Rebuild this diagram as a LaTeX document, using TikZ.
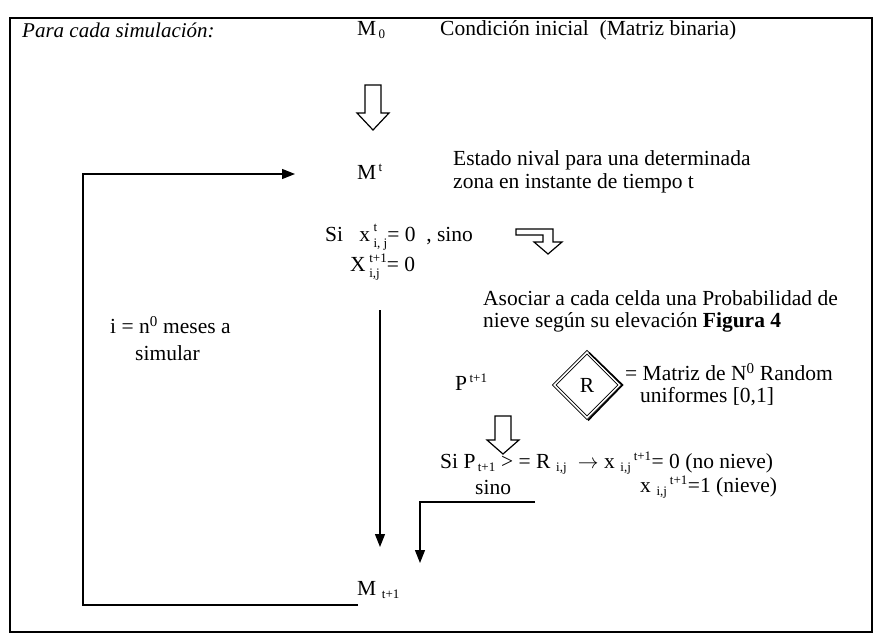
\documentclass[tikz,border=0pt]{standalone}
\usepackage{amsmath}
\usepackage{fontspec}
\setmainfont{Liberation Serif}
\usetikzlibrary{arrows.meta,shapes.geometric,calc}
\tikzset{
  txt/.style={anchor=west,inner sep=0pt,font=\fontsize{21.5}{25}\selectfont},
  arr/.style={line width=1.3pt,-{Triangle[length=13pt,width=10pt]}},
  hollow/.style={line width=1.2pt,line join=miter,fill=white},
}
\newcommand{\sm}[1]{\text{\fontsize{13}{13}\selectfont #1}}
\newsavebox\supbox
\newsavebox\subbox
\newcommand{\supsub}[2]{\sbox\supbox{\fontsize{13}{13}\selectfont #1}\sbox\subbox{\fontsize{13}{13}\selectfont #2}%
  \rlap{\raisebox{9.5pt}{\usebox\supbox}}\rlap{\raisebox{-6pt}{\usebox\subbox}}%
  \hspace{\ifdim\wd\supbox>\wd\subbox \wd\supbox\else\wd\subbox\fi}}
\newcommand{\hdown}[3]{% hollow down arrow: top centre #1, shaft length #2, head length #3
  \draw[hollow] ($#1+(-8,0)$) -- ++(16,0) -- ++(0,#2) -- ++(8,0) -- ($#1+(0,#2+#3)$) -- ($#1+(-16,#2)$) -- ++(8,0) -- cycle;}
\begin{document}
\begin{tikzpicture}[x=1pt,y=-1pt]
\useasboundingbox (0,0) rectangle (883,639);
\fill[white] (0,0) rectangle (883,639);
% outer frame
\draw[line width=1.2pt] (10,18) rectangle (872,632);

\node[txt,font=\fontsize{21}{25}\selectfont\itshape] (para) at (22,30) {Para cada simulación:};
\node[txt] (m0) at (357,30) {M$_{\,\sm{0}}$};
\node[txt] (cond) at (440,30) {Condición inicial\ \ (Matriz binaria)};

\hdown{(373,85)}{28}{17}

\node[txt] (mt) at (357,172) {M$^{\,\sm{t}}$};
\node[txt] (est1) at (453,160) {Estado nival para una determinada};
\node[txt] (est2) at (453,183) {zona en instante de tiempo t};

\node[txt] (si1) at (325,237) {Si\ \ \ x\,\supsub{t}{i, j}= 0\ \ , sino};
\node[txt] (si2) at (350,267) {X\,\supsub{t+1}{i,j}= 0};

% bent hollow arrow
\draw[hollow] (516,229) -- (553,229) -- (553,242) -- (562,242) -- (548,254) -- (534,242) -- (543,242) -- (543,235) -- (516,235) -- cycle;

\node[txt] (aso1) at (483,298) {Asociar a cada celda una Probabilidad de};
\node[txt] (aso2) at (483,322) {nieve según su elevación \textbf{Figura 4}};

\node[txt] (i1) at (110,325) {i = n$^{\text{0}}$ meses a};
\node[txt] (i2) at (135,353) {simular};

\node[txt] (p) at (455,382) {P$^{\,\sm{t+1}}$};
\node[draw,diamond,double,double distance=1.6pt,line width=0.9pt,minimum size=66pt,inner sep=0pt,font=\fontsize{21.5}{25}\selectfont] (r) at (587,385) {R};
\draw[line width=1.6pt] ($(r.north)+(2,1)$) -- ($(r.east)+(2,0)$) -- ($(r.south)+(1,2)$);
\node[txt] (mat1) at (625,372) {= Matriz de N$^{\text{0}}$ Random};
\node[txt] (mat2) at (640,397) {uniformes [0,1]};

\hdown{(503,416)}{24}{14}

\node[txt] (sip) at (440,463) {Si P$_{\,\sm{t+1}}$ > = R$_{\,\sm{ i,j}}$\ \ $\rightarrow$ x$_{\,\sm{ i,j}}$$^{\,\sm{t+1}}$= 0 (no nieve)};
\node[txt] (sino) at (475,487) {sino};
\node[txt] (xn) at (640,487) {x$_{\,\sm{ i,j}}$$^{\,\sm{t+1}}$=1 (nieve)};

\node[txt] (mt1) at (357,590) {M$_{\,\sm{ t+1}}$};

% connectors
\coordinate (loopR) at (358,605);
\coordinate (loopBL) at (83,605);
\coordinate (mtin) at (295,174);
\draw[arr] (loopR) -- (loopBL) |- (mtin);

\coordinate (vtop) at (380,310);
\coordinate (vbot) at (380,547);
\draw[arr] (vtop) -- (vbot);

\coordinate (sinoR) at (535,502);
\coordinate (sinoD) at (420,563);
\draw[arr] (sinoR) -| (sinoD);
\end{tikzpicture}
\end{document}
